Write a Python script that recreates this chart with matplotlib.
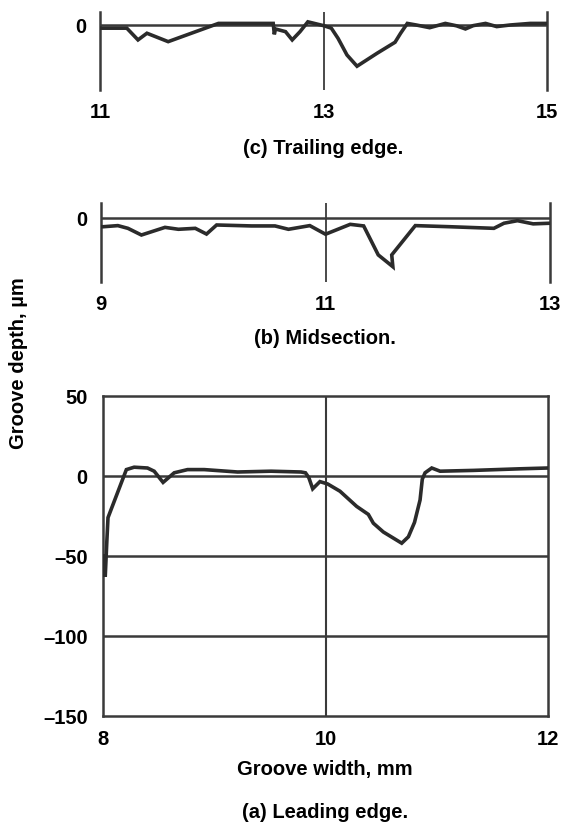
import matplotlib
matplotlib.use("Agg")
import matplotlib.pyplot as plt

plt.rcParams['font.family'] = ['Liberation Sans', 'DejaVu Sans']
plt.rcParams['font.weight'] = 'bold'

# (c) Trailing edge
xc = [11.00, 11.24, 11.34, 11.42, 11.61, 12.06, 12.55, 12.56, 12.57, 12.66, 12.72,
      12.79, 12.86, 13.00, 13.07, 13.13, 13.21, 13.30, 13.48, 13.64, 13.69, 13.75,
      13.83, 13.95, 14.09, 14.19, 14.27, 14.34, 14.45, 14.55, 14.67, 14.85, 15.00]
yc = [-2.0, -2.0, -9.4, -5.2, -10.5, 1.0, 1.0, -5.9, -2.5, -4.2, -9.4,
      -4.2, 2.0, -0.4, -2.0, -8.4, -18.9, -26.0, -17.8, -10.9, -5.2, 1.0,
      0.0, -1.7, 1.0, -0.5, -2.5, -0.4, 1.0, -1.0, 0.0, 1.0, 1.0]

# (b) Midsection
xb = [9.00, 9.02, 9.15, 9.24, 9.36, 9.57, 9.69, 9.84, 9.94, 10.03, 10.34, 10.55,
      10.67, 10.86, 11.00, 11.22, 11.34, 11.47, 11.60, 11.59, 11.80, 12.11, 12.50,
      12.59, 12.71, 12.85, 13.00]
yb = [-5.3, -5.3, -4.6, -6.3, -10.5, -5.7, -6.9, -6.3, -9.9, -4.2, -4.8, -4.8,
      -6.9, -4.6, -10.0, -3.8, -4.8, -23.0, -30.4, -23.0, -4.6, -5.3, -6.3,
      -3.1, -1.5, -3.5, -3.1]

# (a) Leading edge
xa = [8.00, 8.02, 8.035, 8.045, 8.21, 8.28, 8.40, 8.46, 8.54, 8.64, 8.76, 8.91,
      9.21, 9.51, 9.78, 9.82, 9.85, 9.885, 9.95, 10.02, 10.13, 10.28, 10.385,
      10.43, 10.52, 10.685, 10.745, 10.80, 10.85, 10.87, 10.895, 10.955, 11.03,
      11.33, 11.75, 12.00]
ya = [-50.0, -63.0, -40.0, -26.0, 4.0, 5.5, 5.0, 3.0, -4.0, 2.0, 4.0, 4.0,
      2.5, 3.0, 2.5, 2.0, -1.0, -8.0, -3.5, -5.0, -9.5, -19.0, -24.0,
      -29.5, -35.0, -42.0, -38.0, -29.0, -15.0, -2.0, 2.0, 5.0, 3.0,
      3.5, 4.5, 5.0]

xticks_c = [11, 13, 15]
xticks_b = [9, 11, 13]
xticks_a = [8, 10, 12]
yticks_a = [50, 0, -50, -100, -150]

W, H = 568, 825
fig = plt.figure(figsize=(W / 100, H / 100), dpi=100)

def rect(l, r, t, b):
    return [l / W, 1 - b / H, (r - l) / W, (b - t) / H]

curve_col = '#2b2b2b'
grid_col = '#3a3a3a'
fs = 14.5

def small_panel(ax, x, y, ticks, ylim):
    ax.set_xlim(ticks[0], ticks[-1])
    ax.set_ylim(*ylim)
    for s in ['top', 'bottom']:
        ax.spines[s].set_visible(False)
    for s in ['left', 'right']:
        ax.spines[s].set_linewidth(1.8)
        ax.spines[s].set_color(grid_col)
    ax.axhline(0, color=grid_col, lw=1.8, zorder=1)
    ax.axvline(ticks[1], color=grid_col, lw=1.3, zorder=1)
    ax.plot(x, y, color=curve_col, lw=2.6, solid_joinstyle='miter', zorder=3)
    ax.set_xticks(ticks)
    ax.set_xticklabels([str(t) for t in ticks], fontsize=fs, fontweight='bold')
    ax.set_yticks([0])
    ax.set_yticklabels(['0'], fontsize=fs, fontweight='bold')
    ax.tick_params(axis='both', length=0)
    ax.tick_params(axis='x', pad=9)
    ax.tick_params(axis='y', pad=10)

axc = fig.add_axes(rect(100, 547, 12, 90))
small_panel(axc, xc, yc, xticks_c, (-41, 8.2))
axb = fig.add_axes(rect(101, 550, 203, 282))
small_panel(axb, xb, yb, xticks_b, (-40, 9.6))

axa = fig.add_axes(rect(103, 548, 396, 716))
axa.set_xlim(8, 12)
axa.set_ylim(-150, 50)
for s in axa.spines.values():
    s.set_linewidth(1.8)
    s.set_color(grid_col)
for yv in [0, -50, -100]:
    axa.axhline(yv, color=grid_col, lw=1.8, zorder=1)
axa.axvline(10, color=grid_col, lw=1.5, zorder=1)
axa.plot(xa, ya, color=curve_col, lw=2.6, solid_joinstyle='miter', zorder=3)
axa.set_xticks(xticks_a)
axa.set_xticklabels([str(t) for t in xticks_a], fontsize=fs, fontweight='bold')
axa.set_yticks(yticks_a)
axa.set_yticklabels([str(t).replace('-', '\u2013') for t in yticks_a], fontsize=fs, fontweight='bold')
axa.tick_params(axis='both', length=0)
axa.tick_params(axis='x', pad=10)
axa.tick_params(axis='y', pad=11)

fig.text(323 / W, 1 - 148 / H, '(c) Trailing edge.', ha='center', va='center', fontsize=fs, fontweight='bold')
fig.text(325 / W, 1 - 339 / H, '(b) Midsection.', ha='center', va='center', fontsize=fs, fontweight='bold')
fig.text(325 / W, 1 - 769 / H, 'Groove width, mm', ha='center', va='center', fontsize=fs, fontweight='bold')
fig.text(325 / W, 1 - 812 / H, '(a) Leading edge.', ha='center', va='center', fontsize=fs, fontweight='bold')
fig.text(19 / W, 1 - 363 / H, 'Groove depth, \u00b5m', ha='center', va='center', rotation=90,
         fontsize=fs, fontweight='bold')

fig.savefig('out.png', dpi=100)
